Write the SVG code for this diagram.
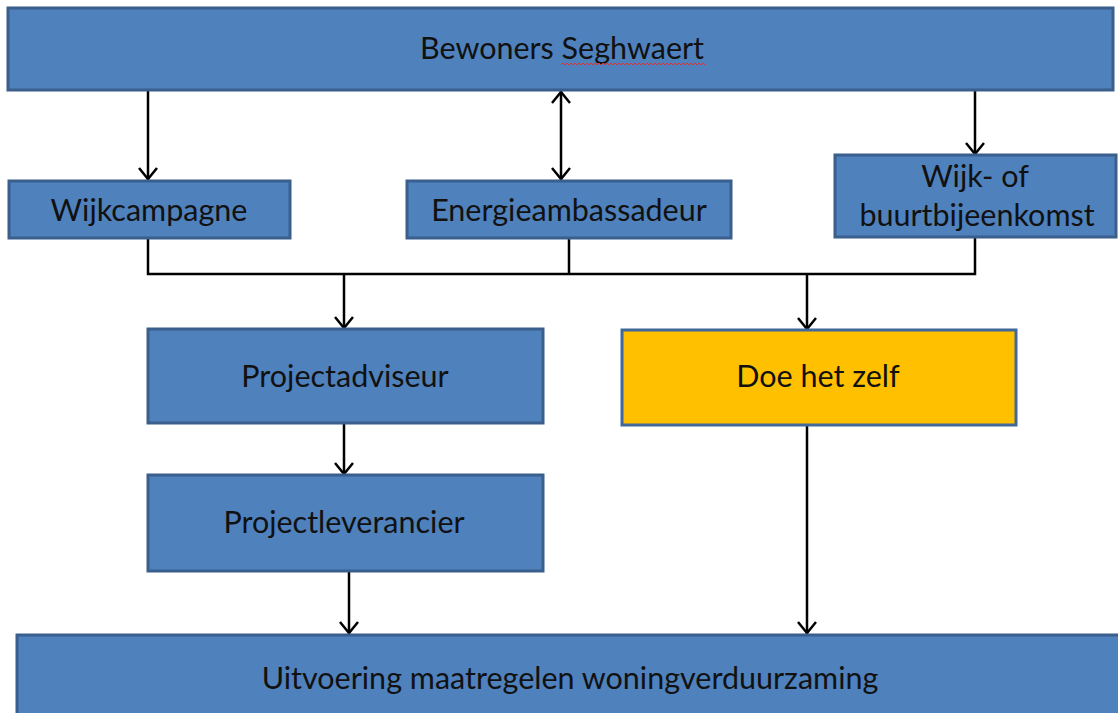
<svg xmlns="http://www.w3.org/2000/svg" width="1118" height="713" viewBox="0 0 1118 713">
<defs>
<style>
.box{fill:#4f81bd;stroke:#3b5f8c;stroke-width:3}
.yel{fill:#ffc000;stroke:#41689a;stroke-width:3}
.t{font-family:Lato,"Open Sans",sans-serif;font-size:30.5px;fill:#111;text-anchor:middle}
.c{fill:none;stroke:#000;stroke-width:2.5}
</style>
<marker id="ah" viewBox="0 0 24 24" refX="22" refY="12" markerWidth="24" markerHeight="24" markerUnits="userSpaceOnUse" orient="auto-start-reverse">
<polyline points="10,3 21,12 10,21" fill="none" stroke="#000" stroke-width="2.5"/>
</marker>
</defs>
<rect width="1118" height="713" fill="#fff"/>
<g id="connectors">
<path class="c" d="M148 90 V180" marker-end="url(#ah)"/>
<path class="c" d="M561 91 V180" marker-start="url(#ah)" marker-end="url(#ah)"/>
<path class="c" d="M975 90 V155" marker-end="url(#ah)"/>
<path class="c" d="M148 238 V274 H975 V237"/>
<path class="c" d="M569 238 V274"/>
<path class="c" d="M344 274 V329" marker-end="url(#ah)"/>
<path class="c" d="M807 274 V330" marker-end="url(#ah)"/>
<path class="c" d="M344 423 V475" marker-end="url(#ah)"/>
<path class="c" d="M349 571 V634" marker-end="url(#ah)"/>
<path class="c" d="M807 425 V634" marker-end="url(#ah)"/>
</g>
<g id="bewoners">
<rect class="box" x="8" y="8" width="1105" height="82"/>
<text class="t" x="562" y="59">Bewoners Seghwaert</text>
<path d="M561 65 l2 -2 2 2 2 -2 2 2 2 -2 2 2 2 -2 2 2 2 -2 2 2 2 -2 2 2 2 -2 2 2 2 -2 2 2 2 -2 2 2 2 -2 2 2 2 -2 2 2 2 -2 2 2 2 -2 2 2 2 -2 2 2 2 -2 2 2 2 -2 2 2 2 -2 2 2 2 -2 2 2 2 -2 2 2 2 -2 2 2 2 -2 2 2 2 -2 2 2 2 -2 2 2 2 -2 2 2 2 -2 2 2 2 -2 2 2 2 -2 2 2 2 -2 2 2 2 -2 2 2 2 -2 2 2 2 -2 2 2 2 -2 2 2 2 -2 2 2 2 -2 2 2 2 -2 2 2 2 -2 2 2" fill="none" stroke="#e03030" stroke-width="1"/>
</g>
<g id="wijkcampagne">
<rect class="box" x="9" y="181" width="281" height="57"/>
<text class="t" x="149" y="221">Wijkcampagne</text>
</g>
<g id="energieambassadeur">
<rect class="box" x="407" y="181" width="324" height="57"/>
<text class="t" x="569" y="221">Energieambassadeur</text>
</g>
<g id="bijeenkomst">
<rect class="box" x="835" y="155" width="281" height="82"/>
<text class="t" x="975" y="187">Wijk- of</text>
<text class="t" x="977" y="226">buurtbijeenkomst</text>
</g>
<g id="projectadviseur">
<rect class="box" x="148" y="329" width="395" height="94"/>
<text class="t" x="345" y="387">Projectadviseur</text>
</g>
<g id="doehetzelf">
<rect class="yel" x="622" y="330" width="394" height="95"/>
<text class="t" x="818" y="387">Doe het zelf</text>
</g>
<g id="projectleverancier">
<rect class="box" x="148" y="475" width="395" height="96"/>
<text class="t" x="344" y="533">Projectleverancier</text>
</g>
<g id="uitvoering">
<rect class="box" x="17" y="635" width="1110" height="90"/>
<text class="t" x="570" y="689">Uitvoering maatregelen woningverduurzaming</text>
</g>
</svg>
